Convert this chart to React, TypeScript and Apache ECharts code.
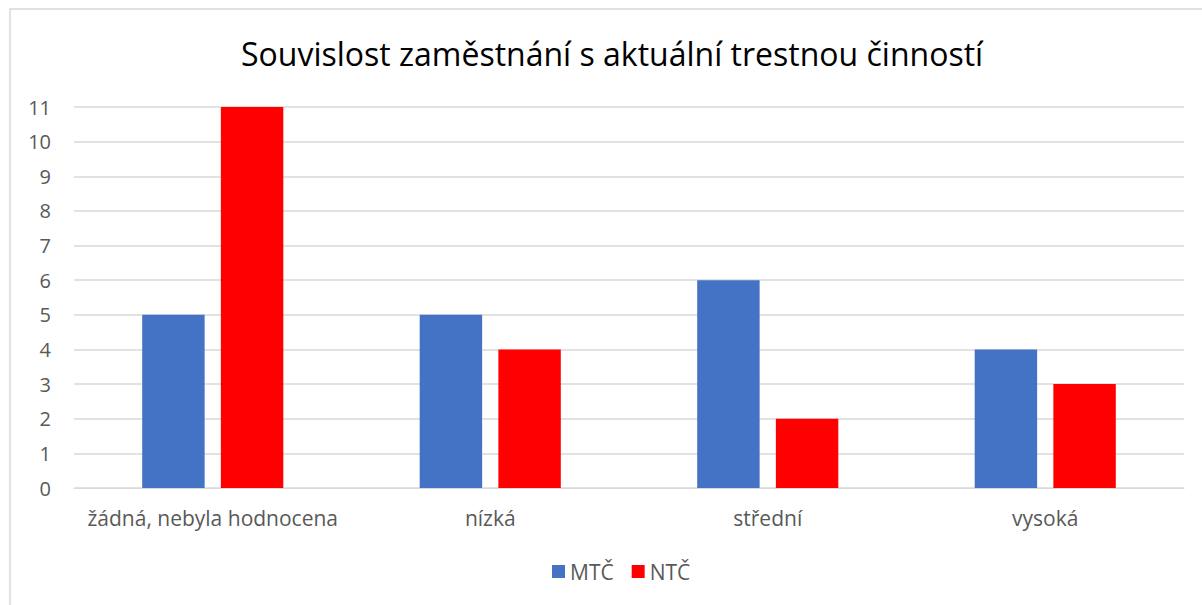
import React, { useEffect, useRef } from "react";
import * as echarts from "echarts";

const categories = ["žádná, nebyla hodnocena", "nízká", "střední", "vysoká"];
const seriesNames = ["MTČ", "NTČ"];
const mtcValues = [5, 5, 6, 4];
const ntcValues = [11, 4, 2, 3];
const colors = ["#4472C4", "#FF0000"];
const titleText = "Souvislost zaměstnání s aktuální trestnou činností";

const FONT = "'Open Sans', 'Noto Sans', sans-serif";

export default function App() {
  const ref = useRef<HTMLDivElement>(null);
  useEffect(() => {
    if (!ref.current) return;
    const chart = echarts.init(ref.current, null, { renderer: "svg" });
    chart.setOption({
      animation: false,
      backgroundColor: "#ffffff",
      title: {
        text: titleText,
        left: 236,
        top: 32,
        textStyle: { fontFamily: FONT, fontSize: 32, fontWeight: "normal", color: "#000000" },
      },
      graphic: [
        {
          type: "rect",
          shape: { x: 10, y: 9, width: 1400, height: 800 },
          style: { fill: "none", stroke: "#d9d9d9", lineWidth: 1.5 },
          silent: true,
        },
      ],
      legend: {
        data: seriesNames,
        bottom: 18,
        left: 547,
        itemWidth: 13,
        itemHeight: 13,
        itemGap: 18,
        icon: "rect",
        textStyle: { fontFamily: FONT, fontSize: 21, color: "#595959" },
      },
      grid: { left: 74, right: 18, top: 107, bottom: 117, containLabel: false },
      xAxis: {
        type: "category",
        data: categories,
        axisLine: { show: true, lineStyle: { color: "#d9d9d9", width: 1 } },
        axisTick: { show: false },
        axisLabel: { fontFamily: FONT, fontSize: 21, color: "#595959", margin: 19, interval: 0 },
      },
      yAxis: {
        type: "value",
        min: 0,
        max: 11,
        interval: 1,
        axisLine: { show: false },
        axisTick: { show: false },
        splitLine: { lineStyle: { color: "#d9d9d9", width: 1.5 } },
        axisLabel: { fontFamily: FONT, fontSize: 20, color: "#595959", margin: 23 },
      },
      series: [
        {
          name: seriesNames[0],
          type: "bar",
          data: mtcValues,
          itemStyle: { color: colors[0] },
          barWidth: "22.5%",
          barGap: "26%",
        },
        {
          name: seriesNames[1],
          type: "bar",
          data: ntcValues,
          itemStyle: { color: colors[1] },
          barWidth: "22.5%",
          barGap: "26%",
        },
      ],
    });
    return () => chart.dispose();
  }, []);
  return (
    <div
      ref={ref}
      style={{ position: "absolute", left: 0, top: 0, width: 1202, height: 605 }}
    />
  );
}
